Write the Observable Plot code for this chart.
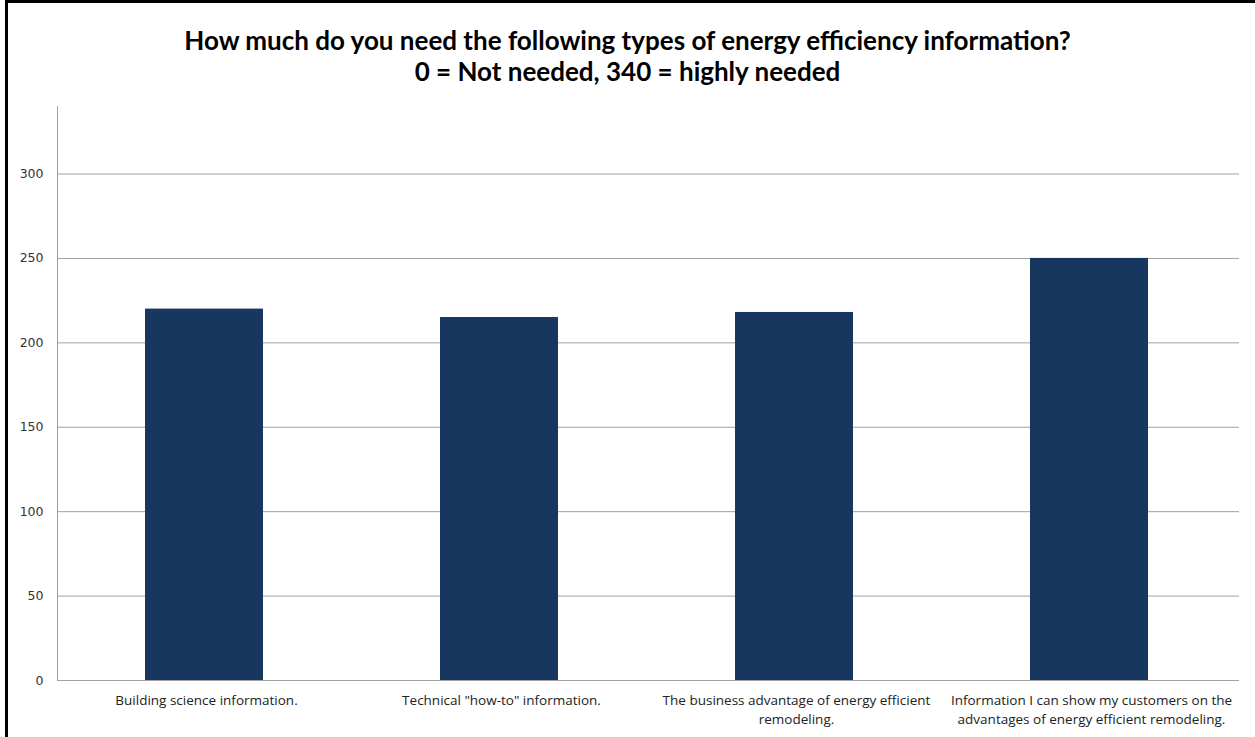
<!DOCTYPE html>
<html><head><meta charset="utf-8">
<script src="https://cdn.jsdelivr.net/npm/d3@7"></script>
<script src="https://cdn.jsdelivr.net/npm/@observablehq/plot@0.6"></script>
<style>
body{margin:0;background:#fff;}
#frame{position:relative;width:1255px;height:737px;overflow:hidden;background:#fff;}
#border{position:absolute;left:5px;top:0;width:1300px;height:800px;border-left:3px solid #000;border-top:3px solid #000;pointer-events:none;}
#title{position:absolute;top:25px;left:0;width:1255px;text-align:center;font-family:Lato,sans-serif;font-weight:bold;font-size:26px;line-height:31px;color:#000}
#chart{position:absolute;left:0;top:90px;}
</style>
</head><body>
<div id="frame">
  <div id="title">How much do you need the following types of energy efficiency information?<br>0 = Not needed, 340 = highly needed</div>
  <div id="chart"></div>
  <div id="border"></div>
</div>
<script>
const categories = [
  "Building science information.",
  'Technical "how-to" information.',
  "The business advantage of energy efficient remodeling.",
  "Information I can show my customers on the advantages of energy efficient remodeling."
];
const tickLabels = [
  "Building science information.",
  'Technical "how-to" information.',
  "The business advantage of energy efficient\nremodeling.",
  "Information I can show my customers on the\nadvantages of energy efficient remodeling."
];
const values = [220, 215, 218, 250];
const yTicks = [0, 50, 100, 150, 200, 250, 300];
const yDomain = [0, 340];

const data = categories.map((c, i) => ({category: c, value: values[i]}));

const chart = Plot.plot({
  width: 1255,
  height: 647,
  marginTop: 16,
  marginBottom: 57,
  marginLeft: 57,
  marginRight: 16,
  style: {background: "transparent", overflow: "visible"},
  x: {domain: categories, paddingInner: 0.6, paddingOuter: 0.3, label: null},
  y: {domain: yDomain, label: null},
  marks: [
    Plot.gridY(yTicks, {stroke: "#a0a0a0", strokeOpacity: 1}),
    Plot.frame({anchor: "left", stroke: "#a0a0a0"}),
    Plot.barY(data, {x: "category", y: "value", fill: "#17375E", dx: -2}),
    Plot.ruleY([0], {stroke: "#a0a0a0"}),
    Plot.axisY(yTicks, {tickSize: 0, tickPadding: 14, fontSize: 12.5, fontFamily: "DejaVu Sans", fill: "#333", label: null}),
    Plot.axisX({tickSize: 0, tickPadding: 11, fontSize: 13.5, lineHeight: 1.4, fontFamily: "Open Sans", fill: "#222", label: null,
      tickFormat: d => tickLabels[categories.indexOf(d)]})
  ]
});
document.getElementById("chart").appendChild(chart);
</script>
</body></html>
